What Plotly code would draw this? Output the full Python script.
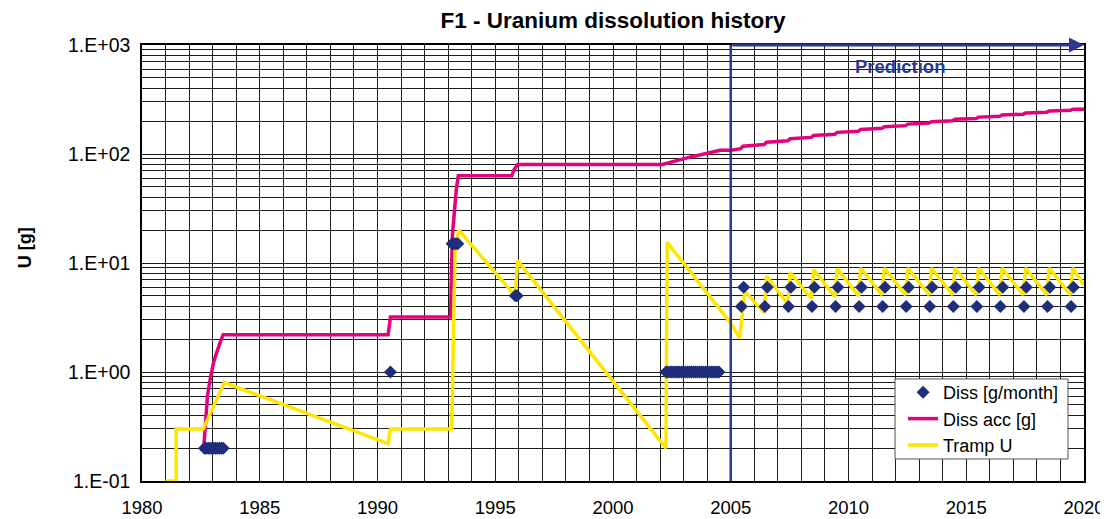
import plotly.graph_objects as go

# ---------------- data ----------------
diss_x = [1982.65, 1982.73, 1982.81, 1982.89, 1982.97, 1983.05, 1983.13, 1983.21, 1983.29, 1983.37, 1983.45,
          1990.55,
          1993.17, 1993.25, 1993.33, 1993.41,
          1995.85, 1995.93,
          2002.25, 2002.33, 2002.42, 2002.50, 2002.58, 2002.67, 2002.75, 2002.83, 2002.92, 2003.00,
          2003.08, 2003.17, 2003.25, 2003.33, 2003.42, 2003.50, 2003.58, 2003.67, 2003.75, 2003.83,
          2003.92, 2004.00, 2004.08, 2004.17, 2004.25, 2004.33, 2004.42, 2004.50,
          2005.45, 2005.55, 2006.45, 2006.55, 2007.45, 2007.55, 2008.45, 2008.55, 2009.45, 2009.55,
          2010.45, 2010.55, 2011.45, 2011.55, 2012.45, 2012.55, 2013.45, 2013.55, 2014.45, 2014.55,
          2015.45, 2015.55, 2016.45, 2016.55, 2017.45, 2017.55, 2018.45, 2018.55, 2019.45, 2019.55]
diss_y = [0.2, 0.2, 0.2, 0.2, 0.2, 0.2, 0.2, 0.2, 0.2, 0.2, 0.2,
          1.0,
          15, 15, 15, 15,
          5, 5,
          1, 1, 1, 1, 1, 1, 1, 1, 1, 1,
          1, 1, 1, 1, 1, 1, 1, 1, 1, 1,
          1, 1, 1, 1, 1, 1, 1, 1,
          4, 6, 4, 6, 4, 6, 4, 6, 4, 6,
          4, 6, 4, 6, 4, 6, 4, 6, 4, 6,
          4, 6, 4, 6, 4, 6, 4, 6, 4, 6]

acc_x = [1982.62, 1982.70, 1982.78, 1982.87, 1982.95, 1983.03, 1983.12, 1983.20, 1983.28, 1983.37, 1983.45,
         1990.45, 1990.55, 1993.10, 1993.18, 1993.27, 1993.35, 1993.43,
         1995.70, 1995.80, 1995.95, 2002.10, 2003.30, 2004.55, 2005.00,
         2005.42, 2005.52, 2006.42, 2006.52, 2007.42, 2007.52, 2008.42, 2008.52, 2009.42, 2009.52,
         2010.42, 2010.52, 2011.42, 2011.52, 2012.42, 2012.52, 2013.42, 2013.52, 2014.42, 2014.52,
         2015.42, 2015.52, 2016.42, 2016.52, 2017.42, 2017.52, 2018.42, 2018.52, 2019.42, 2019.52,
         2020.00]
acc_y = [0.2, 0.4, 0.6, 0.8, 1.0, 1.2, 1.4, 1.6, 1.8, 2.0, 2.2,
         2.2, 3.2, 3.2, 18, 33, 48, 63,
         63, 72, 80, 80, 94, 108, 108,
         112, 118, 122, 128, 132, 138, 142, 148, 152, 158,
         162, 168, 172, 178, 182, 188, 192, 198, 202, 208,
         212, 218, 222, 228, 232, 238, 242, 248, 252, 258,
         258]

tramp_x = [1981.00, 1981.45, 1981.45, 1982.60, 1983.50, 1990.45, 1990.55, 1993.15, 1993.30, 1993.45,
           1995.85, 1995.95, 2002.25, 2002.30, 2005.00, 2005.38, 2005.60,
           2006.42, 2006.52, 2007.42, 2007.52, 2008.42, 2008.52, 2009.42, 2009.52,
           2010.42, 2010.52, 2011.42, 2011.52, 2012.42, 2012.52, 2013.42, 2013.52,
           2014.42, 2014.52, 2015.42, 2015.52, 2016.42, 2016.52, 2017.42, 2017.52,
           2018.42, 2018.52, 2019.42, 2019.52, 2020.00]
tramp_y = [0.1, 0.1, 0.3, 0.3, 0.8, 0.22, 0.3, 0.3, 14, 20,
           5.0, 10.5, 0.2, 15.5, 2.8, 2.05, 5.5,
           3.5, 7.6, 4.2, 8.2, 4.7, 8.7, 4.9, 8.9,
           5.0, 9.0, 5.1, 9.0, 5.1, 9.0, 5.1, 9.0,
           5.1, 9.0, 5.1, 9.0, 5.1, 9.0, 5.1, 9.0,
           5.1, 9.0, 5.1, 9.0, 6.3]

prediction_start = 2005
x_range = [1980, 2020]
y_tickvals = [0.1, 1, 10, 100, 1000]
y_ticktext = ["1.E-01", "1.E+00", "1.E+01", "1.E+02", "1.E+03"]
x_tickvals = [1980, 1985, 1990, 1995, 2000, 2005, 2010, 2015, 2020]

# ---------------- styling ----------------
NAVY = "#1F2D7B"
PINK = "#E5007D"
YELLOW = "#FFE600"
BLUE = "#2B3990"
GRID = "#1a1a1a"
FONT = "Arial, Liberation Sans, Helvetica, sans-serif"

fig = go.Figure()
fig.add_trace(go.Scatter(x=acc_x, y=acc_y, mode="lines", name="Diss acc [g]", legendrank=2,
                         line=dict(color=PINK, width=3.5)))
fig.add_trace(go.Scatter(x=tramp_x, y=tramp_y, mode="lines", name="Tramp U", legendrank=3,
                         line=dict(color=YELLOW, width=3.5)))
fig.add_trace(go.Scatter(x=diss_x, y=diss_y, mode="markers", name="Diss [g/month]", legendrank=1,
                         marker=dict(symbol="diamond", size=10, color=NAVY)))

minor_y = [m * 10 ** e for e in range(-1, 3) for m in range(2, 10)]

fig.update_xaxes(range=x_range, tickvals=x_tickvals, showgrid=True, gridcolor=GRID, gridwidth=1,
                 minor=dict(dtick=1, showgrid=True, gridcolor=GRID, gridwidth=1),
                 showline=True, linecolor="black", linewidth=1.5, mirror=True, automargin=False,
                 ticks="outside", ticklen=9, tickcolor="rgba(0,0,0,0)",
                 tickfont=dict(family=FONT, size=18.5, color="black"), zeroline=False)
fig.update_yaxes(type="log", range=[-1, 3], tickvals=y_tickvals, ticktext=y_ticktext,
                 showgrid=True, gridcolor=GRID, gridwidth=1,
                 minor=dict(tickmode="array", tickvals=minor_y, showgrid=True, gridcolor=GRID, gridwidth=1),
                 showline=True, linecolor="black", linewidth=1.5, mirror=True, automargin=False,
                 ticks="outside", ticklen=6, tickcolor="rgba(0,0,0,0)",
                 tickfont=dict(family=FONT, size=19.5, color="black"), zeroline=False)

fig.add_shape(type="line", x0=prediction_start, x1=prediction_start, y0=0, y1=1,
              xref="x", yref="paper", line=dict(color=BLUE, width=2.5))
# legend frame
fig.add_shape(type="rect", xref="paper", yref="paper", x0=0.7994, x1=0.983, y0=0.0505, y1=0.234,
              layer="above", fillcolor="white", line=dict(color="#555555", width=1))
fig.add_annotation(x=x_range[1], y=3, ax=prediction_start, ay=3, xref="x", yref="y",
                   axref="x", ayref="y", text="", showarrow=True, arrowhead=2,
                   arrowsize=1, arrowwidth=3, arrowcolor=BLUE)
fig.add_annotation(x=2012.2, y=2.8, xref="x", yref="y", text="<b>Prediction</b>",
                   showarrow=False, font=dict(family=FONT, size=18.5, color=BLUE))
fig.add_annotation(x=-0.1242, y=0.534, xref="paper", yref="paper", text="<b>U [g]</b>",
                   xanchor="center", yanchor="middle",
                   textangle=-90, showarrow=False, font=dict(family=FONT, size=18, color="black"))

# page body has an 8px default margin: size the figure to fit the 1108x519 window
fig.update_layout(
    width=1100, height=511,
    margin=dict(l=134, r=24, t=37, b=38, autoexpand=False),
    paper_bgcolor="white", plot_bgcolor="white",
    title=dict(text="<b>F1 - Uranium dissolution history</b>", x=0.5, xref="paper",
               y=1 - 12 / 511, yanchor="middle",
               font=dict(family=FONT, size=22.5, color="black")),
    showlegend=True,
    legend=dict(x=0.8079, y=0.2454, xanchor="left", yanchor="top",
                bgcolor="rgba(0,0,0,0)", borderwidth=0,
                font=dict(family=FONT, size=18, color="black")),
)

fig.write_html("out.html")
